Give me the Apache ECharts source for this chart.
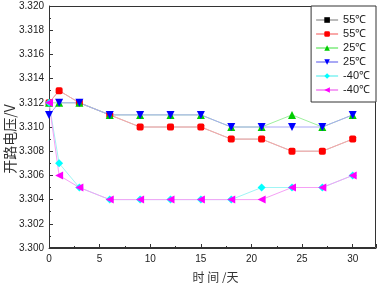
<!DOCTYPE html>
<html>
<head>
<meta charset="utf-8">
<script src="https://cdn.jsdelivr.net/npm/echarts@6/dist/echarts.min.js"></script>
<style>
  html, body { margin: 0; padding: 0; background: #fff; }
  #main { width: 378px; height: 283px; }
</style>
</head>
<body>
<div id="main"></div>
<script>
// 时间 (天)
const days = [0, 1, 3, 6, 9, 12, 15, 18, 21, 24, 27, 30];
// 开路电压 /V
const v55a = [3.312, 3.313, 3.312, 3.311, 3.310, 3.310, 3.310, 3.309, 3.309, 3.308, 3.308, 3.309];
const v55b = [3.312, 3.313, 3.312, 3.311, 3.310, 3.310, 3.310, 3.309, 3.309, 3.308, 3.308, 3.309];
const v25a = [3.312, 3.312, 3.312, 3.311, 3.311, 3.311, 3.311, 3.310, 3.310, 3.311, 3.310, 3.311];
const v25b = [3.311, 3.312, 3.312, 3.311, 3.311, 3.311, 3.311, 3.310, 3.310, 3.310, 3.310, 3.311];
const vm40a = [3.312, 3.307, 3.305, 3.304, 3.304, 3.304, 3.304, 3.304, 3.305, 3.305, 3.305, 3.306];
const vm40b = [3.312, 3.306, 3.305, 3.304, 3.304, 3.304, 3.304, 3.304, 3.304, 3.305, 3.305, 3.306];

const myChart = echarts.init(document.getElementById('main'));

const mk = (name, vals, symbol, size, markColor, lineColor, rot) => ({
  name: name,
  type: 'line',
  data: days.map((d, i) => [d, vals[i]]),
  symbol: symbol,
  symbolSize: size,
  symbolRotate: rot || 0,
  itemStyle: { color: markColor },
  lineStyle: { color: lineColor, width: 1 },
  animation: false
});

const font = 'Liberation Sans';
const option = {
  backgroundColor: '#fff',
  grid: { left: 49, right: 2, top: 6, bottom: 35, outerBoundsMode: 'none', containLabel: false },
  legend: {
    right: 2,
    top: 6,
    orient: 'vertical',
    itemWidth: 22,
    itemHeight: 7,
    itemGap: 2,
    padding: [8, 6, 6, 4],
    borderColor: '#333',
    borderWidth: 1,
    backgroundColor: '#fff',
    textStyle: { fontFamily: font, fontSize: 11, lineHeight: 12, color: '#222', padding: [0, 0, 0, 0] },
    data: [
      { name: '55℃a' }, { name: '55℃b' }, { name: '25℃a' },
      { name: '25℃b' }, { name: '-40℃a' }, { name: '-40℃b' }
    ],
    formatter: n => n.slice(0, -1)
  },
  xAxis: {
    type: 'value',
    min: 0,
    max: 32.3,
    interval: 5,
    name: '时 间 /天',
    nameLocation: 'middle',
    nameGap: 23,
    nameMoveOverlap: false,
    nameTextStyle: { fontFamily: 'Noto Sans CJK SC', fontSize: 12, color: '#333', padding: [0, 0, 0, 6] },
    axisLine: { onZero: false, lineStyle: { color: '#333', width: 1 } },
    axisTick: { inside: true, length: 4, lineStyle: { color: '#333' } },
    minorTick: { show: true, splitNumber: 2, length: 2, lineStyle: { color: '#333' } },
    axisLabel: { fontFamily: font, fontSize: 10, color: '#222', margin: 6, showMaxLabel: false },
    splitLine: { show: false }
  },
  yAxis: {
    type: 'value',
    min: 3.300,
    max: 3.320,
    interval: 0.002,
    name: '开路电压/V',
    nameLocation: 'middle',
    nameGap: 32,
    nameMoveOverlap: false,
    nameTextStyle: { fontFamily: 'Noto Sans CJK SC', fontSize: 14, color: '#333', padding: [0, 24, 0, 0] },
    axisLine: { show: true, lineStyle: { color: '#333', width: 1 } },
    axisTick: { inside: true, length: 4, lineStyle: { color: '#333' } },
    minorTick: { show: true, splitNumber: 2, length: 2, lineStyle: { color: '#333' } },
    axisLabel: { fontFamily: font, fontSize: 10, color: '#222', margin: 5, formatter: v => v.toFixed(3) },
    splitLine: { show: false }
  },
  graphic: [{
    type: 'rect',
    shape: { x: 49.5, y: 6.5, width: 326, height: 241 },
    style: { fill: 'none', stroke: '#333', lineWidth: 1 },
    silent: true,
    z: 0
  }],
  series: [
    mk('55℃a', v55a, 'rect', 5, '#000', '#bbb'),
    mk('55℃b', v55b, 'roundRect', 7, '#f00', '#f9a8a8'),
    mk('25℃a', v25a, 'triangle', 8, '#0c0', '#9ef09e'),
    mk('25℃b', v25b, 'triangle', 8, '#00f', '#a8a8f5', 180),
    mk('-40℃a', vm40a, 'diamond', 8, '#0ff', '#a0f5f5'),
    mk('-40℃b', vm40b, 'triangle', 8, '#f0f', '#f5a0f5', 90)
  ]
};
myChart.setOption(option);
</script>
</body>
</html>
